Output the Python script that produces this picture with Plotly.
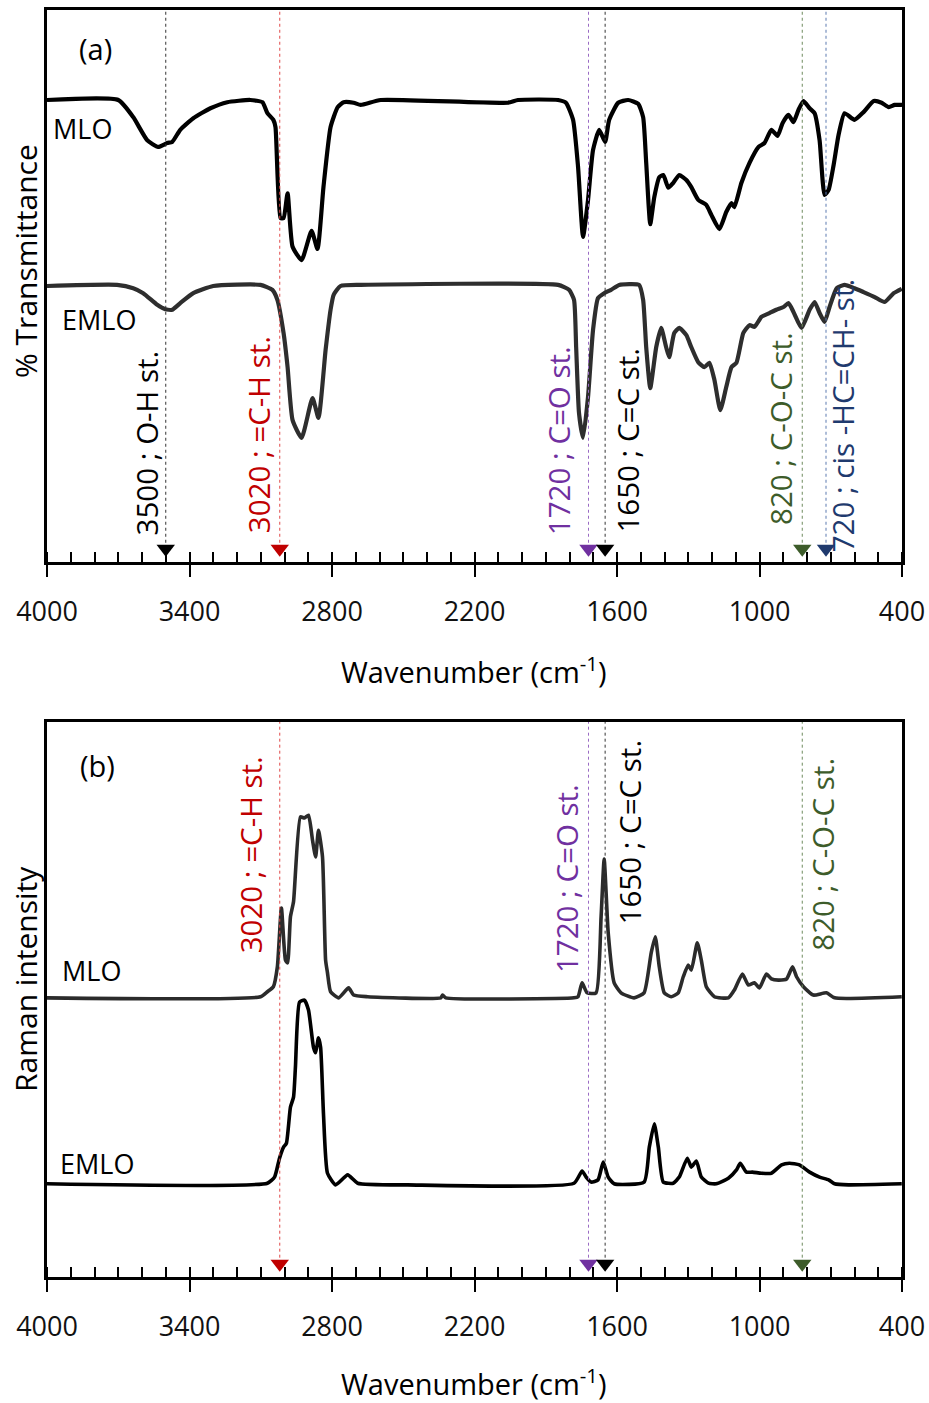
import plotly.graph_objects as go

# ---------------- FT-IR spectra (transmittance, a.u.) ----------------
ir_wn_mlo = [4000, 3700, 3637, 3578, 3532, 3494, 3473, 3439, 3384, 3312, 3241, 3144, 3093,
             3072, 3047, 3038, 3017, 3004, 2987, 2966, 2928, 2886, 2861, 2836, 2806, 2776,
             2751, 2709, 2679, 2595, 2059, 2017, 1848, 1815, 1785, 1764, 1743, 1722, 1701,
             1675, 1650, 1633, 1595, 1553, 1511, 1490, 1477, 1460, 1443, 1422, 1405, 1384,
             1363, 1338, 1308, 1287, 1258, 1224, 1203, 1169, 1140, 1118, 1106, 1076, 1042,
             1004, 979, 950, 924, 903, 878, 857, 836, 815, 789, 768, 747, 726, 709, 688,
             667, 642, 600, 562, 519, 486, 456, 431, 400]
ir_t_mlo = [83.7, 83.7, 80.6, 76.4, 75.2, 75.9, 76.1, 78.3, 80.4, 82.2, 83.3, 83.7, 83.3,
            81.3, 80.1, 78.8, 62.3, 62.3, 66.8, 57.1, 54.7, 60.0, 56.7, 67.9, 78.8, 82.4,
            83.3, 83.2, 82.8, 83.7, 83.2, 83.7, 83.7, 83.2, 80.1, 71.6, 58.9, 65.6, 74.6,
            78.3, 76.1, 80.1, 83.2, 83.7, 83.0, 80.6, 72.3, 61.2, 66.1, 69.7, 70.1, 67.8,
            68.7, 70.1, 69.2, 67.9, 65.6, 64.7, 62.9, 60.3, 63.4, 65.0, 64.3, 68.7, 72.3,
            75.2, 75.9, 78.3, 77.2, 79.5, 81.0, 79.7, 81.9, 83.5, 82.2, 81.3, 76.4, 66.5,
            67.4, 71.9, 77.4, 81.3, 80.1, 81.5, 83.5, 83.2, 82.4, 82.8, 82.8]

ir_wn_emlo = [4000, 3705, 3637, 3595, 3536, 3502, 3473, 3439, 3384, 3300, 3101, 3051, 3030,
              3004, 2987, 2966, 2928, 2882, 2857, 2827, 2806, 2793, 2764, 2679, 1848, 1802,
              1781, 1772, 1760, 1743, 1722, 1701, 1680, 1654, 1625, 1591, 1507, 1490, 1477,
              1460, 1435, 1414, 1393, 1380, 1359, 1338, 1308, 1287, 1258, 1232, 1211, 1190,
              1165, 1140, 1118, 1097, 1068, 1042, 1021, 992, 958, 929, 899, 878, 857, 823,
              789, 768, 747, 726, 705, 675, 642, 600, 562, 515, 473, 435, 401]
ir_t_emlo = [50.0, 50.2, 49.6, 48.7, 46.6, 45.8, 45.7, 46.9, 48.7, 50.0, 50.2, 49.3, 47.5,
             41.5, 35.3, 25.7, 22.5, 29.7, 26.1, 38.4, 45.7, 48.4, 50.0, 50.2, 50.2, 49.3,
             47.5, 38.9, 27.0, 22.5, 29.9, 42.0, 47.8, 48.7, 49.3, 50.2, 50.2, 47.5, 38.9,
             31.5, 38.9, 42.4, 38.9, 37.1, 41.5, 42.4, 41.1, 38.9, 36.2, 35.3, 36.1, 33.0,
             27.5, 31.7, 35.3, 36.1, 41.5, 42.9, 42.6, 44.4, 45.1, 45.7, 46.2, 46.9, 45.3,
             42.4, 45.7, 47.1, 45.1, 43.5, 46.2, 49.6, 50.2, 49.6, 48.9, 48.0, 47.1, 48.7,
             49.5]

# ---------------- Raman spectra (intensity, a.u.) ----------------
raman_wn_mlo = [4000, 3101, 3072, 3047, 3030, 3013, 2996, 2987, 2975, 2962, 2933, 2916, 2899,
                2882, 2869, 2857, 2840, 2827, 2819, 2806, 2772, 2730, 2709, 2650, 2342, 2334,
                2321, 1781, 1764, 1747, 1726, 1688, 1667, 1654, 1637, 1612, 1583, 1528, 1486,
                1456, 1439, 1422, 1401, 1372, 1342, 1321, 1300, 1287, 1262, 1245, 1224, 1190,
                1131, 1106, 1072, 1047, 1021, 1000, 971, 950, 920, 886, 861, 844, 815, 773,
                718, 684, 401]
raman_i_mlo = [50.3, 50.5, 51.4, 52.3, 55.9, 66.5, 57.1, 56.6, 64.9, 67.6, 82.9, 82.7, 83.2,
               78.7, 75.7, 80.5, 75.7, 57.1, 54.8, 51.4, 50.3, 52.1, 50.8, 50.5, 50.3, 50.8,
               50.3, 50.3, 50.5, 53.0, 51.2, 51.2, 64.9, 75.3, 62.0, 53.0, 51.2, 50.3, 51.2,
               58.4, 61.3, 55.9, 51.2, 50.5, 51.2, 54.1, 56.2, 55.3, 60.2, 57.1, 52.3, 50.5,
               50.3, 51.7, 54.6, 52.6, 53.0, 52.1, 54.6, 53.7, 53.5, 53.7, 55.9, 54.1, 52.3,
               50.8, 51.2, 50.3, 50.5]

raman_wn_emlo = [4000, 3072, 3042, 3021, 3004, 2992, 2975, 2962, 2954, 2937, 2916, 2899, 2878,
                 2869, 2857, 2848, 2836, 2819, 2785, 2734, 2692, 2481, 1781, 1747, 1730, 1709,
                 1680, 1658, 1637, 1612, 1486, 1464, 1443, 1426, 1405, 1363, 1338, 1304, 1287,
                 1266, 1245, 1215, 1182, 1131, 1097, 1081, 1055, 1030, 992, 950, 907, 874, 832,
                 789, 747, 709, 684, 625, 401]
raman_i_emlo = [16.8, 16.9, 18.0, 21.4, 23.4, 24.1, 30.6, 32.4, 37.8, 49.5, 49.9, 48.1, 41.4,
                40.4, 43.1, 41.4, 29.5, 18.7, 16.6, 18.4, 16.9, 16.6, 16.9, 19.1, 18.0, 17.1,
                17.5, 20.7, 18.0, 16.8, 17.1, 23.4, 27.6, 23.4, 17.1, 16.9, 18.0, 21.4, 19.8,
                20.9, 18.0, 16.9, 16.8, 17.8, 19.3, 20.5, 18.9, 18.9, 18.7, 18.7, 20.2, 20.5,
                20.2, 18.9, 18.0, 17.5, 16.8, 16.6, 16.8]

# ---------------- band assignments ----------------
ir_band_wn = [3500, 3020, 1720, 1650, 820, 720]
ir_band_text = ["3500 ; O-H st.", "3020 ; =C-H st.", "1720 ; C=O st.", "1650 ; C=C st.",
                "820 ; C-O-C st.", "720 ; cis -HC=CH- st."]
raman_band_wn = [3020, 1720, 1650, 820]
raman_band_text = ["3020 ; =C-H st.", "1720 ; C=O st.", "1650 ; C=C st.", "820 ; C-O-C st."]

x_ticks = [4000, 3400, 2800, 2200, 1600, 1000, 400]

# ---------------- styling ----------------
W, H = 929, 1403
FONT = "Open Sans"
band_color = {3500: "#000000", 3020: "#C00000", 1720: "#7030A0", 1650: "#000000",
              820: "#3D5C2A", 720: "#1F3A6E"}
line_color = {3500: "#333333", 3020: "#E04848", 1720: "#9A6BC4", 1650: "#333333",
              820: "#6E8A5E", 720: "#5C7AB0"}
# label placement: (x offset in px from band line, bottom of text in axis units)
ir_label_pos = {3500: (-19, 4.5), 3020: (-21, 4.9), 1720: (-30, 4.5), 1650: (22, 4.9),
                820: (-22, 6.3), 720: (16, 1.3)}
raman_label_pos = {3020: (-29, 58.0), 1720: (-22, 54.4), 1650: (24, 63.1), 820: (20, 58.4)}
MARK_Y = 2.4


def px(xp):
    return xp / W


def py(yp):
    return 1 - yp / H


fig = go.Figure()

# spectra
fig.add_trace(go.Scatter(x=ir_wn_mlo, y=ir_t_mlo, mode="lines", xaxis="x", yaxis="y",
                         line=dict(color="#000000", width=4.2, shape="spline", smoothing=0.5)))
fig.add_trace(go.Scatter(x=ir_wn_emlo, y=ir_t_emlo, mode="lines", xaxis="x", yaxis="y",
                         line=dict(color="#2E2E2E", width=4.2, shape="spline", smoothing=0.5)))
fig.add_trace(go.Scatter(x=raman_wn_mlo, y=raman_i_mlo, mode="lines", xaxis="x2", yaxis="y2",
                         line=dict(color="#2B2B2B", width=3.6, shape="spline", smoothing=0.5)))
fig.add_trace(go.Scatter(x=raman_wn_emlo, y=raman_i_emlo, mode="lines", xaxis="x2", yaxis="y2",
                         line=dict(color="#000000", width=3.6, shape="spline", smoothing=0.5)))


def add_bands(wns, texts, pos, xa, ya):
    for wn, txt in zip(wns, texts):
        # dotted guide from the top of the frame down to the marker
        fig.add_trace(go.Scatter(x=[wn, wn], y=[MARK_Y, 100], mode="lines", xaxis=xa, yaxis=ya,
                                 line=dict(color=line_color[wn], width=1, dash="dot")))
        fig.add_trace(go.Scatter(x=[wn], y=[MARK_Y], mode="markers", xaxis=xa, yaxis=ya,
                                 marker=dict(symbol="triangle-down", size=16,
                                             color=band_color[wn], line=dict(width=0))))
        dx, yb = pos[wn]
        fig.add_annotation(x=wn, y=yb, xref=xa, yref=ya, text=txt, textangle=-90,
                           showarrow=False, xanchor="center", yanchor="bottom", xshift=dx,
                           font=dict(family=FONT, size=29.5, color=band_color[wn]))


add_bands(ir_band_wn, ir_band_text, ir_label_pos, "x", "y")
add_bands(raman_band_wn, raman_band_text, raman_label_pos, "x2", "y2")

xdom = [px(47), px(902)]
ydom_a = [py(562), py(10)]
ydom_b = [py(1277), py(722)]

axis_font = dict(family=FONT, size=27, color="#111111")


def main_xaxis(anchor):
    return dict(domain=xdom, anchor=anchor, range=[4000, 400], showgrid=False, zeroline=False,
                automargin=False,
                showline=True, linecolor="#000000", linewidth=2.5, mirror=True,
                tickmode="array", tickvals=x_ticks, ticks="outside", ticklen=12, tickwidth=2.2,
                tickcolor="#000000", tickfont=axis_font, ticklabelstandoff=12,
                minor=dict(ticks="inside", tick0=400, dtick=100, ticklen=10, tickwidth=1.8,
                           tickcolor="#000000", showgrid=False))


def inner_xaxis(anchor, over):
    return dict(domain=xdom, anchor=anchor, overlaying=over, range=[4000, 400], showgrid=False,
                automargin=False,
                zeroline=False, showline=False, tickmode="array", tickvals=x_ticks,
                ticks="inside", ticklen=12, tickwidth=2.2, tickcolor="#000000",
                showticklabels=False)


def yaxis(dom, anchor):
    return dict(domain=dom, anchor=anchor, range=[0, 100], showgrid=False, zeroline=False,
                automargin=False,
                showline=True, linecolor="#000000", linewidth=2.5, mirror=True,
                ticks="", showticklabels=False)


fig.update_layout(
    template="none",
    width=W, height=H, margin=dict(l=0, r=0, t=0, b=0, autoexpand=False),
    paper_bgcolor="white", plot_bgcolor="white", showlegend=False,
    xaxis=main_xaxis("y"), yaxis=yaxis(ydom_a, "x"),
    xaxis2=main_xaxis("y2"), yaxis2=yaxis(ydom_b, "x2"),
    xaxis3=inner_xaxis("y", "x"), xaxis4=inner_xaxis("y2", "x2"),
)

# text labels
texts = [
    ("(a)", 95, 48, 29, 0), ("MLO", 82, 128, 27, 0), ("EMLO", 99, 319, 27, 0),
    ("(b)", 97, 765, 29, 0), ("MLO", 91, 970, 27, 0), ("EMLO", 97, 1163, 27, 0),
    ("Wavenumber (cm<sup>-1</sup>)", 474, 670, 29, 0),
    ("Wavenumber (cm<sup>-1</sup>)", 474, 1382, 29, 0),
    ("% Transmittance", 25, 261, 30, -90),
    ("Raman intensity", 25, 979, 30, -90),
]
for t, x0, y0, fs, ang in texts:
    fig.add_annotation(x=px(x0), y=py(y0), xref="paper", yref="paper", text=t, showarrow=False,
                       textangle=ang, xanchor="center", yanchor="middle",
                       font=dict(family=FONT, size=fs, color="#000000"))

fig.write_html("out.html")
